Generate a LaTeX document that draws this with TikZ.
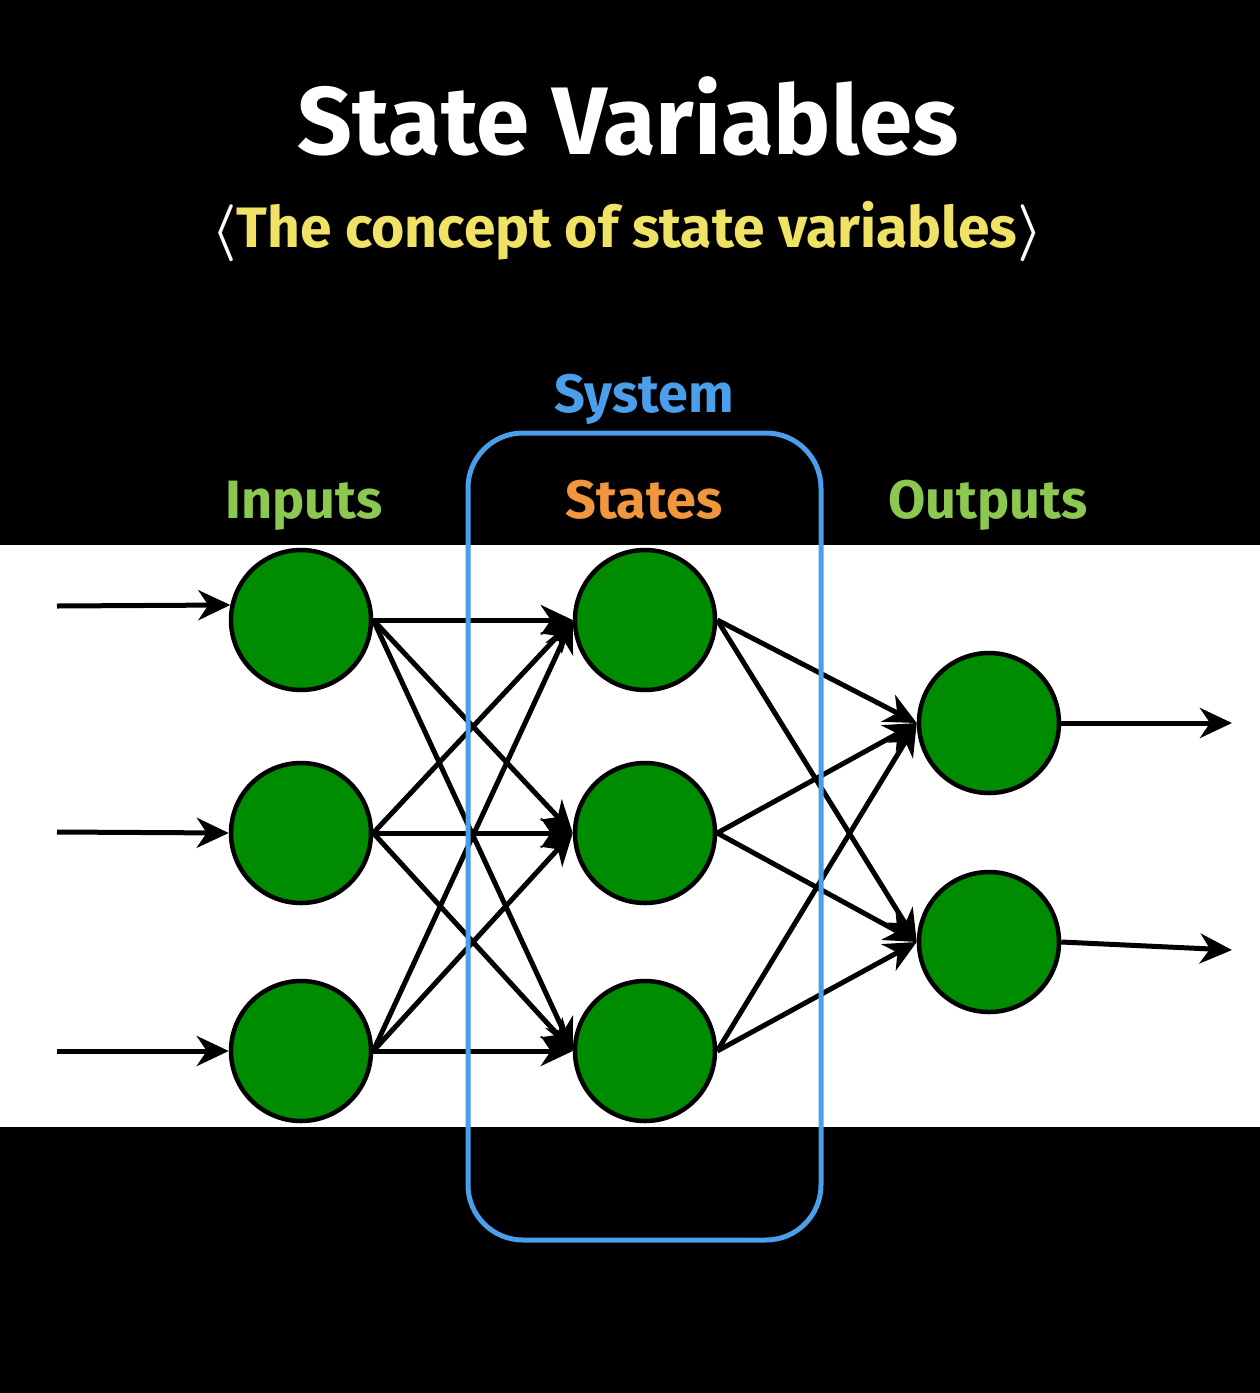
\documentclass[tikz,border=0pt]{standalone}
\usepackage{fix-cm}
\usepackage{fontspec}
\setmainfont{Fira Sans}
\usetikzlibrary{arrows.meta}
\definecolor{ngreen}{RGB}{0,140,0}
\definecolor{sysblue}{RGB}{74,158,234}
\definecolor{subyellow}{RGB}{240,226,100}
\definecolor{stateorange}{RGB}{240,150,60}
\definecolor{lblgreen}{RGB}{140,200,80}
\newcommand{\myla}{\textcolor{white}{$\langle$}}
\newcommand{\myra}{\textcolor{white}{$\rangle$}}
\begin{document}
\begin{tikzpicture}[x=1pt,y=-1pt,
  neuron/.style={circle, draw=black, line width=4.5pt, fill=ngreen, minimum size=140pt, inner sep=0pt},
  conn/.style={line width=5pt, -{Stealth[length=32pt,width=30pt,inset=10pt]}},
  lbl/.style={anchor=base, inner sep=0pt, font=\fontsize{54}{60}\selectfont\bfseries},
  sysbox/.style={draw=sysblue, line width=5pt, rounded corners=55pt, minimum width=353pt, minimum height=807pt, inner sep=0pt}
]
\fill[black] (0,0) rectangle (1260,1393);
\useasboundingbox (0,0) rectangle (1260,1393);
\fill[white] (0,545) rectangle (1260,1127);

% titles
\node[anchor=base, inner sep=0pt, text=white, font=\fontsize{96}{110}\selectfont\bfseries] (title) at (628,154) {State Variables};
\node[anchor=base, inner sep=0pt, text=subyellow, font=\fontsize{57}{64}\selectfont\bfseries\boldmath] (subtitle) at (627,247) {\myla The concept of state variables\myra};
\node[lbl, text=sysblue] (syslbl) at (644,412) {System};
\node[lbl, text=lblgreen] (inlbl) at (304,518) {Inputs};
\node[lbl, text=stateorange] (stlbl) at (644,518) {States};
\node[lbl, text=lblgreen] (outlbl) at (988,518) {Outputs};

% neurons
\node[neuron] (i1) at (301,620) {};
\node[neuron] (i2) at (301,833) {};
\node[neuron] (i3) at (301,1051) {};
\node[neuron] (s1) at (645,620) {};
\node[neuron] (s2) at (645,833) {};
\node[neuron] (s3) at (645,1051) {};
\node[neuron] (o1) at (989,723) {};
\node[neuron] (o2) at (989,942) {};

% free ends
\coordinate (a1) at (57,606);
\coordinate (a2) at (57,832);
\coordinate (a3) at (57,1051);
\coordinate (b1) at (1232,723);
\coordinate (b2) at (1232,950);

% input arrows
\draw[conn] (a1) -- (i1.168);
\draw[conn] (a2) -- (i2.west);
\draw[conn] (a3) -- (i3.west);

% inputs to states
\foreach \i in {1,2,3}{
  \foreach \s in {1,2,3}{
    \draw[conn] (i\i.east) -- (s\s.west);
  }
}
% states to outputs
\foreach \s in {1,2,3}{
  \foreach \o in {1,2}{
    \draw[conn] (s\s.east) -- (o\o.west);
  }
}
% output arrows
\draw[conn] (o1.east) -- (b1);
\draw[conn] (o2.east) -- (b2);

% system box
\node[sysbox] (sys) at (644.5,836.5) {};
\end{tikzpicture}
\end{document}
